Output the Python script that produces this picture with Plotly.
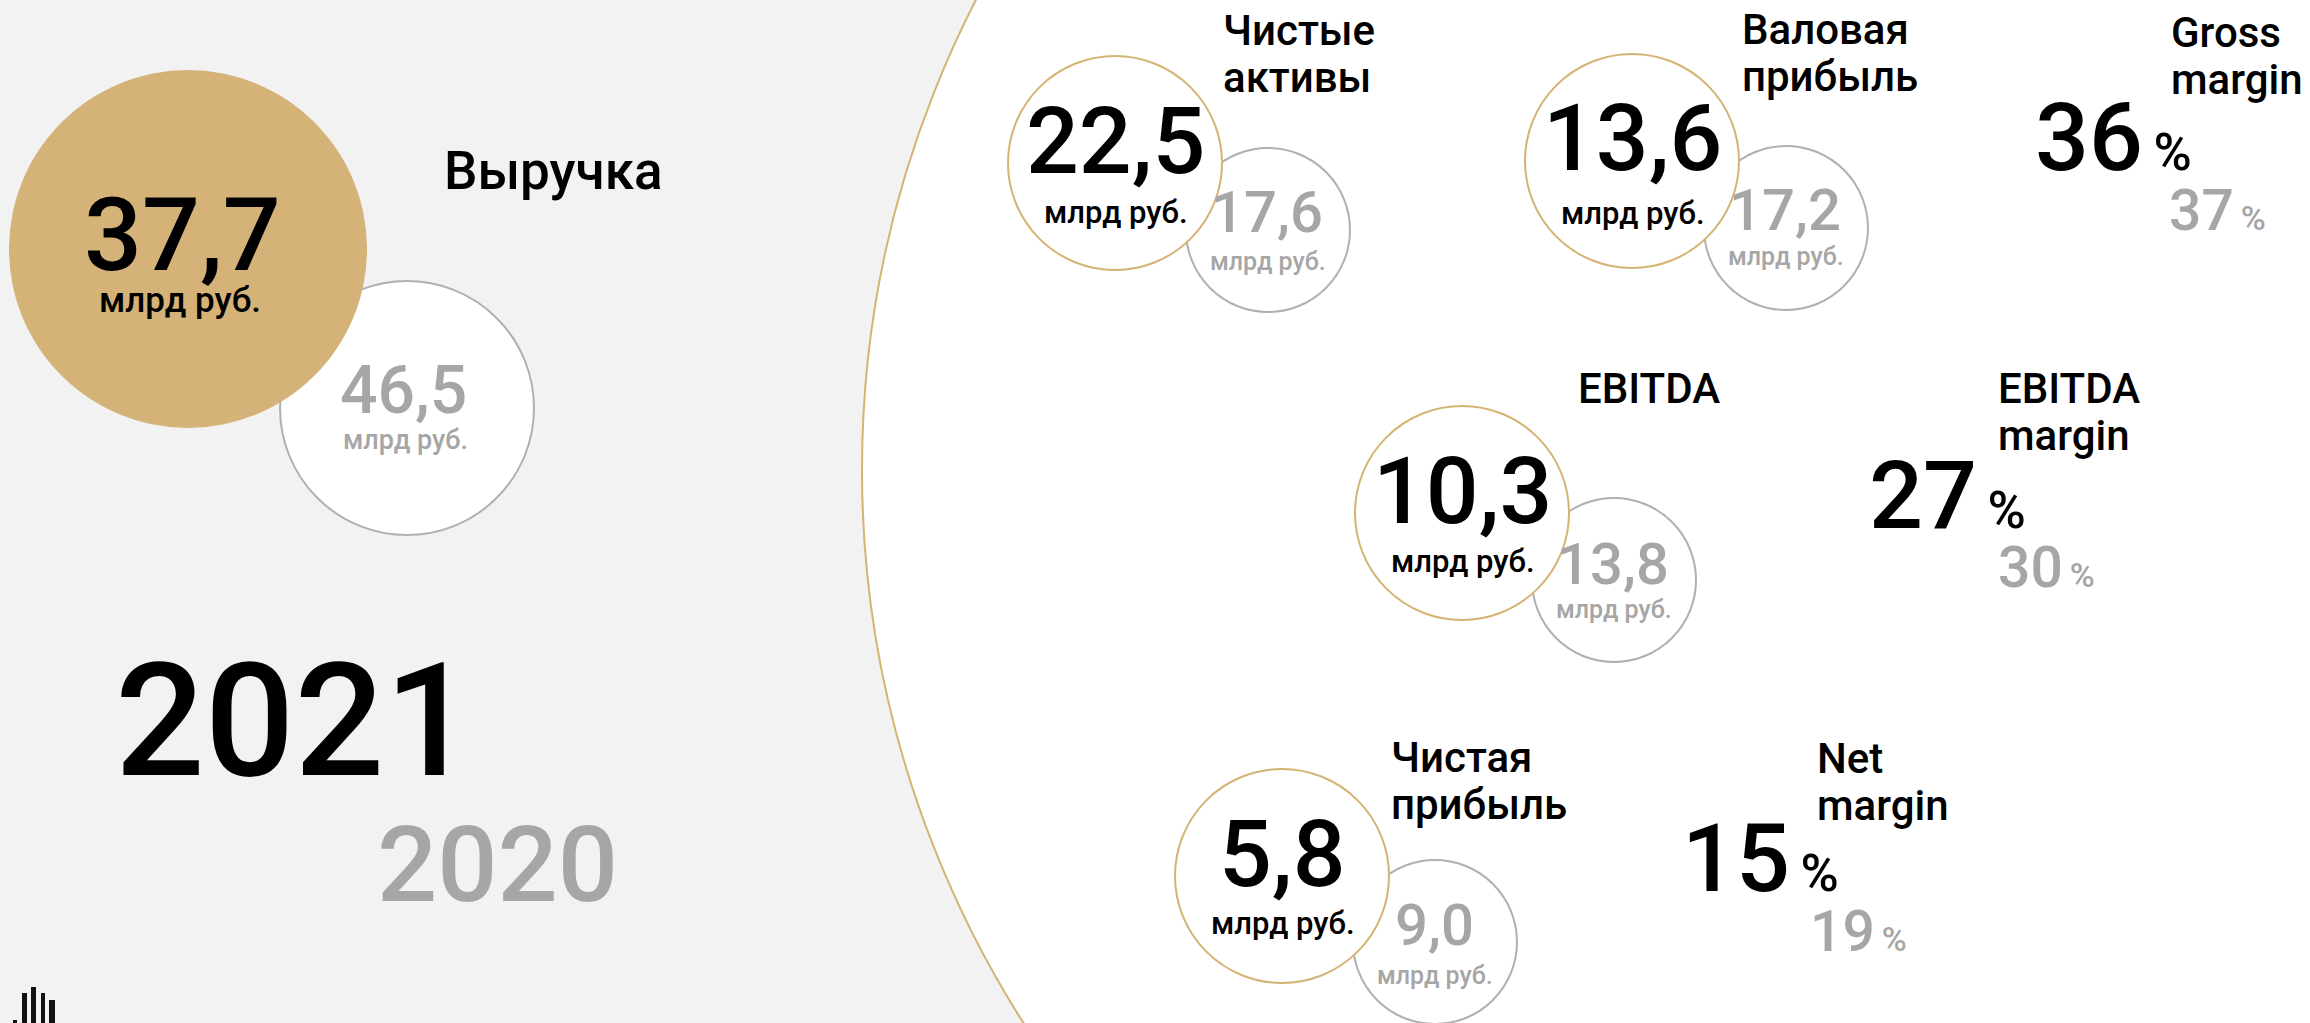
import plotly.graph_objects as go

# ---------------- data ----------------
years = ["2021", "2020"]
revenue_label = "Выручка"
revenue_2021 = 37.7
revenue_2020 = 46.5
unit = "млрд руб."

metric_labels = ["Чистые\nактивы", "Валовая\nприбыль", "EBITDA", "Чистая\nприбыль"]
metric_2021 = [22.5, 13.6, 10.3, 5.8]
metric_2020 = [17.6, 17.2, 13.8, 9.0]

margin_labels = ["Gross\nmargin", "EBITDA\nmargin", "Net\nmargin"]
margin_2021 = [36, 27, 15]
margin_2020 = [37, 30, 19]

# ---------------- layout / style ----------------
W, H = 2310, 1023
FONT = "Roboto"
WEIGHT = 500
BLACK = "#000000"
GRAY = "#a6a6a6"
GOLD = "#d4b278"
GOLD_LINE = "#d5b372"
GRAY_LINE = "#b0b0b0"
BG = "#f2f2f2"

# positions (pixel coordinates, y downwards)
big_circle = dict(cx=1888, cy=470, r=1026)
rev_gold = dict(cx=188, cy=249, r=179)
rev_gray = dict(cx=407, cy=408, r=127)

m_gold_c = [(1115, 163), (1632, 161), (1462, 513), (1282, 876)]
m_gray_c = [(1268, 230), (1786, 228), (1614, 580), (1435, 942)]
R_GOLD, R_GRAY = 107, 82
m_val_y = [141, 138, 491, 854]
m_unit_y = [212, 213, 561, 923]
m_old_y = [212, 210, 564, 925]
m_old_unit_y = [261, 256, 609, 975]
m_label_xy = [(1222, 30), (1741, 29), (1577, 388), (1390, 757)]

mg_label_xy = [(2170, 32), (1997, 388), (1816, 758)]
mg_val_xy = [(2037, 137), (1871, 495), (1684, 858)]
mg_old_xy = [(2170, 210), (1999, 567), (1811, 931)]

LINE_GAP = 47


def fmt(v):
    return f"{v:.1f}".replace(".", ",")


fig = go.Figure()
shapes = []
ann = []


def circle(cx, cy, r, fill, line_color, line_w):
    shapes.append(dict(type="circle", xref="x", yref="y",
                       x0=cx - r, x1=cx + r, y0=cy - r, y1=cy + r,
                       fillcolor=fill, line=dict(color=line_color, width=line_w),
                       layer="above"))


def text(x, y, s, size, color, xanchor="center", yanchor="middle"):
    ann.append(dict(x=x, y=y, xref="x", yref="y", text=s, showarrow=False,
                    xanchor=xanchor, yanchor=yanchor, borderpad=0,
                    font=dict(family=FONT, size=size, color=color, weight=WEIGHT)))


def label(x, y, s, size=42):
    for i, line in enumerate(s.split("\n")):
        text(x, y + i * LINE_GAP, line, size, BLACK, xanchor="left")


# big white circle
circle(big_circle["cx"], big_circle["cy"], big_circle["r"], "#ffffff", GOLD_LINE, 2)

# revenue
circle(rev_gray["cx"], rev_gray["cy"], rev_gray["r"], "#ffffff", GRAY_LINE, 2)
circle(rev_gold["cx"], rev_gold["cy"], rev_gold["r"], GOLD, GOLD, 0)
text(182, 235, fmt(revenue_2021), 102, BLACK)
text(180, 300, unit, 35, BLACK)
text(403, 390, fmt(revenue_2020), 66, GRAY)
text(405, 440, unit, 27, GRAY)
text(443, 171, revenue_label, 53, BLACK, xanchor="left")

# years
text(114, 721, years[0], 158, BLACK, xanchor="left")
text(376, 865, years[1], 106, GRAY, xanchor="left")

# metrics
for i in range(len(metric_labels)):
    gx, gy = m_gold_c[i]
    ox, oy = m_gray_c[i]
    circle(ox, oy, R_GRAY, "#ffffff", GRAY_LINE, 2)
    circle(gx, gy, R_GOLD, "#ffffff", GOLD_LINE, 2)
for i in range(len(metric_labels)):
    gx, gy = m_gold_c[i]
    ox, oy = m_gray_c[i]
    text(gx, m_val_y[i], fmt(metric_2021[i]), 93, BLACK)
    text(gx + 1, m_unit_y[i], unit, 31, BLACK)
    text(ox - 1, m_old_y[i], fmt(metric_2020[i]), 58, GRAY)
    text(ox, m_old_unit_y[i], unit, 25, GRAY)
    lx, ly = m_label_xy[i]
    label(lx, ly, metric_labels[i])

# margins
for i in range(len(margin_labels)):
    lx, ly = mg_label_xy[i]
    label(lx, ly, margin_labels[i])
    vx, vy = mg_val_xy[i]
    text(vx - 3, vy, f"{margin_2021[i]}<span style='font-size:52px'>\u2009%</span>", 95, BLACK,
         xanchor="left")
    px, py = mg_old_xy[i]
    text(px - 2, py, f"{margin_2020[i]}<span style='font-size:34px'>\u2009%</span>", 57, GRAY,
         xanchor="left")

# small logo bars at bottom-left
logo_x = [13, 22, 31, 41, 49]
logo_top = [1020, 993, 987, 993, 1000]
logo_w = [4, 5, 5, 4, 6]
for x, t, w in zip(logo_x, logo_top, logo_w):
    shapes.append(dict(type="rect", xref="x", yref="y", x0=x, x1=x + w, y0=t, y1=H + 5,
                       fillcolor="#111111", line=dict(width=0)))

fig.update_layout(
    width=W, height=H,
    margin=dict(l=0, r=0, t=0, b=0),
    paper_bgcolor=BG, plot_bgcolor=BG,
    shapes=shapes, annotations=ann,
    showlegend=False,
    xaxis=dict(range=[0, W], visible=False, fixedrange=True),
    yaxis=dict(range=[H, 0], visible=False, fixedrange=True),
)

fig.write_html(
    "out.html",
    config={"displayModeBar": False},
    post_script="document.body.style.margin='0px';document.body.style.overflow='hidden';",
)
